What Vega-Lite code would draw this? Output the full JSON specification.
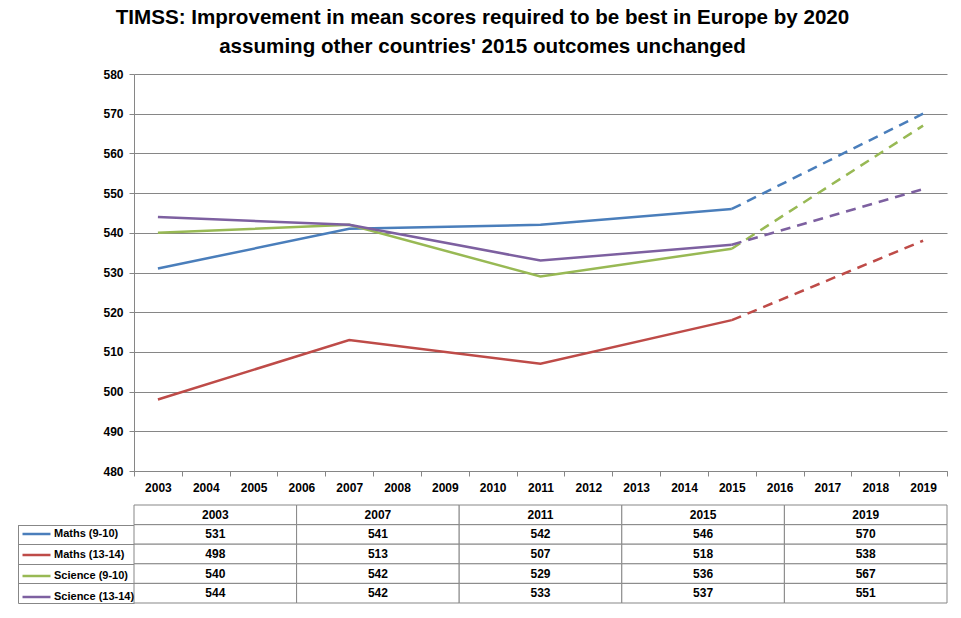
{
  "$schema": "https://vega.github.io/schema/vega-lite/v6.json",
  "padding": {"left": 17, "top": 8, "right": 15, "bottom": 10},
  "background": "white",
  "title": {
    "text": ["TIMSS: Improvement in mean scores required to be best in Europe by 2020", "assuming other countries' 2015 outcomes unchanged"],
    "font": "Liberation Sans",
    "fontSize": 20.6,
    "fontWeight": "bold",
    "color": "black",
    "anchor": "middle",
    "lineHeight": 29,
    "offset": 10
  },
  "datasets": {
    "scores": [
      {"series": "Maths (9-10)", "year": 2003, "score": 531},
      {"series": "Maths (9-10)", "year": 2007, "score": 541},
      {"series": "Maths (9-10)", "year": 2011, "score": 542},
      {"series": "Maths (9-10)", "year": 2015, "score": 546},
      {"series": "Maths (9-10)", "year": 2019, "score": 570},
      {"series": "Maths (13-14)", "year": 2003, "score": 498},
      {"series": "Maths (13-14)", "year": 2007, "score": 513},
      {"series": "Maths (13-14)", "year": 2011, "score": 507},
      {"series": "Maths (13-14)", "year": 2015, "score": 518},
      {"series": "Maths (13-14)", "year": 2019, "score": 538},
      {"series": "Science (9-10)", "year": 2003, "score": 540},
      {"series": "Science (9-10)", "year": 2007, "score": 542},
      {"series": "Science (9-10)", "year": 2011, "score": 529},
      {"series": "Science (9-10)", "year": 2015, "score": 536},
      {"series": "Science (9-10)", "year": 2019, "score": 567},
      {"series": "Science (13-14)", "year": 2003, "score": 544},
      {"series": "Science (13-14)", "year": 2007, "score": 542},
      {"series": "Science (13-14)", "year": 2011, "score": 533},
      {"series": "Science (13-14)", "year": 2015, "score": 537},
      {"series": "Science (13-14)", "year": 2019, "score": 551}
    ]
  },
  "spacing": 0,
  "resolve": {"scale": {"color": "independent"}, "legend": {"color": "independent"}},
  "vconcat": [
    {
      "width": 813,
      "height": 397,
      "data": {"name": "scores"},
      "encoding": {
        "x": {
          "field": "year", "type": "ordinal", "bandPosition": 0.5,
          "scale": {"type": "band", "domain": [2003, 2004, 2005, 2006, 2007, 2008, 2009, 2010, 2011, 2012, 2013, 2014, 2015, 2016, 2017, 2018, 2019], "paddingInner": 0, "paddingOuter": 0},
          "axis": {"title": null, "labelAngle": 0, "tickBand": "extent", "tickSize": 5, "tickColor": "#868686", "domainColor": "#868686", "labelPadding": 6, "minExtent": 33, "maxExtent": 33, "grid": false}
        },
        "y": {
          "field": "score", "type": "quantitative",
          "scale": {"domain": [480, 580], "nice": false, "zero": false},
          "axis": {"title": null, "values": [480, 490, 500, 510, 520, 530, 540, 550, 560, 570, 580], "grid": true, "gridColor": "#868686", "domainColor": "#868686", "tickColor": "#868686", "tickSize": 5, "labelPadding": 6, "minExtent": 116, "maxExtent": 116}
        },
        "color": {
          "field": "series", "type": "nominal",
          "scale": {"domain": ["Maths (9-10)", "Maths (13-14)", "Science (9-10)", "Science (13-14)"], "range": ["#4A7EBB", "#BE4B48", "#98B954", "#7D60A0"]},
          "legend": null
        }
      },
      "layer": [
        {"transform": [{"filter": "datum.year <= 2015"}], "mark": {"type": "line", "strokeWidth": 2.5}},
        {"transform": [{"filter": "datum.year >= 2015"}], "mark": {"type": "line", "strokeWidth": 2.5, "strokeDash": [10, 7]}}
      ]
    },
    {
      "width": 813,
      "height": 98,
      "data": {"name": "scores"},
      "encoding": {
        "x": {"field": "year", "type": "ordinal", "scale": {"domain": [2003, 2007, 2011, 2015, 2019], "paddingInner": 0, "paddingOuter": 0}, "axis": null},
        "y": {
          "field": "series", "type": "nominal",
          "scale": {"domain": ["Year", "Maths (9-10)", "Maths (13-14)", "Science (9-10)", "Science (13-14)"], "paddingInner": 0, "paddingOuter": 0},
          "axis": {"title": null, "values": ["Maths (9-10)", "Maths (13-14)", "Science (9-10)", "Science (13-14)"], "labels": false, "domain": true, "domainColor": "#878787", "domainDash": [0, 19.6, 78.4, 0], "offset": 116, "grid": false, "tickBand": "extent", "tickSize": -116, "tickColor": "#878787", "tickWidth": 1, "minExtent": 0, "maxExtent": 0}
        }
      },
      "layer": [
        {
          "mark": {"type": "rule", "opacity": 0},
          "encoding": {
            "color": {
              "field": "series", "type": "nominal",
              "scale": {"domain": ["Maths (9-10)", "Maths (13-14)", "Science (9-10)", "Science (13-14)"], "range": ["#4A7EBB", "#BE4B48", "#98B954", "#7D60A0"]},
              "legend": {"orient": "none", "legendX": -113, "legendY": 13.5, "title": null, "symbolType": "stroke", "symbolSize": 784, "symbolStrokeWidth": 2.5, "symbolOpacity": 1, "labelFont": "Liberation Sans", "labelFontSize": 11, "labelFontWeight": "bold", "labelColor": "black", "labelOffset": 2, "rowPadding": -2.4, "padding": 0}
            }
          }
        },
        {"mark": {"type": "rect", "fill": "white", "stroke": "#878787", "strokeWidth": 1}},
        {
          "mark": {"type": "text", "align": "center", "baseline": "middle", "fontWeight": "bold", "fontSize": 12, "font": "Liberation Sans", "color": "black"},
          "encoding": {"text": {"field": "score", "type": "quantitative"}}
        },
        {
          "transform": [{"filter": "datum.series == 'Maths (9-10)'"}],
          "mark": {"type": "rect", "fill": "white", "stroke": "#878787", "strokeWidth": 1},
          "encoding": {"y": {"datum": "Year", "type": "nominal"}}
        },
        {
          "transform": [{"filter": "datum.series == 'Maths (9-10)'"}],
          "mark": {"type": "text", "align": "center", "baseline": "middle", "fontWeight": "bold", "fontSize": 12, "font": "Liberation Sans", "color": "black"},
          "encoding": {"y": {"datum": "Year", "type": "nominal"}, "text": {"field": "year", "type": "ordinal"}}
        }
      ]
    }
  ],
  "config": {
    "view": {"stroke": null},
    "axis": {"labelFont": "Liberation Sans", "labelFontSize": 12, "labelFontWeight": "bold", "labelColor": "black", "domainWidth": 1, "gridWidth": 1}
  }
}
